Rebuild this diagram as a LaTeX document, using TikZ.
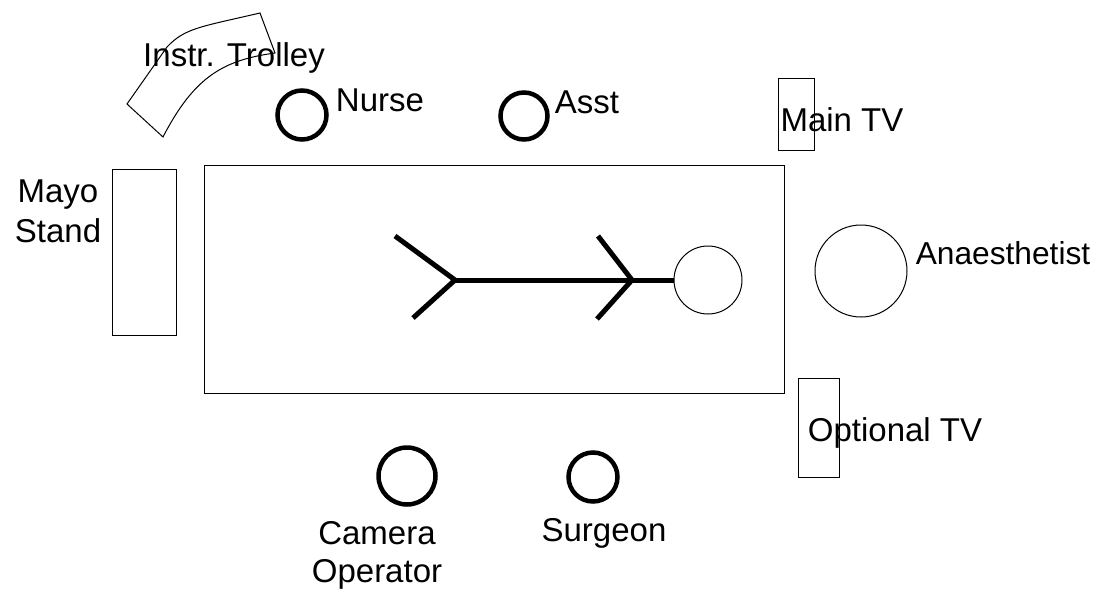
\documentclass[tikz,border=0pt]{standalone}
\usepackage{fontspec}
\setmainfont{Liberation Sans}
\tikzset{
  thickc/.style={shape=circle,draw,line width=4.5pt,inner sep=0pt},
  thinc/.style={shape=circle,draw,line width=1pt,inner sep=0pt},
  furn/.style={shape=rectangle,draw,line width=1pt,inner sep=0pt},
  lbl/.style={font=\fontsize{33}{40}\selectfont,align=center,inner sep=0pt},
  bone/.style={line width=5pt}
}
\begin{document}
\begin{tikzpicture}[x=1pt,y=-1pt]
\useasboundingbox (0,0) rectangle (1109,589);
\node (table) at (494,279) [furn,minimum width=580pt,minimum height=228pt] {};
\node (mayo) at (144,252) [furn,minimum width=64pt,minimum height=166pt] {};
\node (maintv) at (796,114) [furn,minimum width=36pt,minimum height=72pt] {};
\node (opttv) at (818.5,427.5) [furn,minimum width=41pt,minimum height=99pt] {};
\node (nurse) at (302,115) [thickc,minimum size=49pt] {};
\node (asst) at (524,116) [thickc,minimum size=47pt] {};
\node (camera) at (407,476) [thickc,minimum size=57pt] {};
\node (surgeon) at (593,477) [thickc,minimum size=49pt] {};
\node (anaes) at (861,271) [thinc,minimum size=92pt] {};
\node (head) at (708,280) [thinc,minimum size=68pt] {};
\coordinate (hip) at (455,280);
\coordinate (shoulder) at (632,280);
\coordinate (foota) at (395,236);
\coordinate (footb) at (413,318);
\coordinate (handa) at (598,236);
\coordinate (handb) at (597,319);
\draw [bone] (hip) -- (head.west);
\draw [bone] (foota) -- (hip) -- (footb);
\draw [bone] (handa) -- (shoulder) -- (handb);
% trolley
\draw [line width=1pt] (260,13) -- (275,53)
  .. controls (225,60) and (195,75) .. (163,137)
  -- (127,104) -- (167,47)
  .. controls (185,28) and (200,27) .. (260,13) -- cycle;
\node (trolleytxt) at (234,58) [lbl] {Instr. Trolley};
\node (nursetxt) at (380,100) [lbl] {Nurse};
\node (assttxt) at (587,102) [lbl] {Asst};
\node (maintxt) at (842,120) [lbl] {Main TV};
\node (mayotxt) at (58,211) [lbl] {Mayo\\Stand};
\node (anaestxt) at (1003,253) [lbl,font=\fontsize{31.7}{40}\selectfont] {Anaesthetist};
\node (opttxt) at (895,433) [lbl] {Optional TV};
\node (cameratxt) at (377,555) [lbl] {Camera\\[-2pt]Operator};
\node (surgeontxt) at (604,533) [lbl] {Surgeon};
\end{tikzpicture}
\end{document}
